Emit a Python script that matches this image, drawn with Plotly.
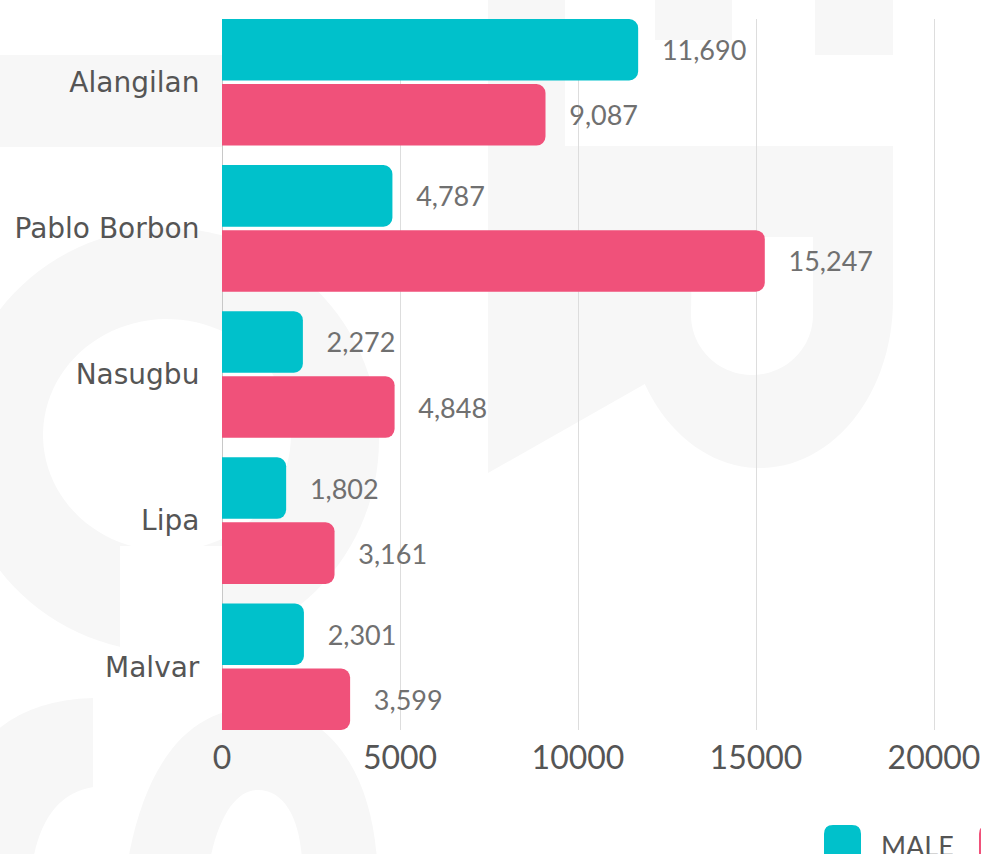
import numpy as np
import plotly.graph_objects as go

# ---------------- data ----------------
campuses = ["Alangilan", "Pablo Borbon", "Nasugbu", "Lipa", "Malvar"]
male = [11690, 4787, 2272, 1802, 2301]
female = [9087, 15247, 4848, 3161, 3599]
series_names = ["MALE", "FEMALE"]
x_ticks = [0, 5000, 10000, 15000, 20000]

# ---------------- style ----------------
TEAL = "#00C1CB"
PINK = "#F0517A"
WM = "#F7F7F7"
OFF = 0                    # page body margin (removed via post_script)
W, H = 981, 854
L, T, PB = 222, 19, 730    # figure px: left margin, top margin, plot bottom
PW, PH = W - L, PB - T


def px(x):  # page pixel -> paper x
    return (x - OFF - L) / PW


def py(y):  # page pixel -> paper y
    return (PB - (y - OFF)) / PH


def path_from(cmds):
    out = []
    for c in cmds:
        if isinstance(c, str):
            out.append(c)
        else:
            out.append(f"{px(c[0]):.5f},{py(c[1]):.5f}")
    return " ".join(out)


def poly(points, close=True):
    s = "M " + " L ".join(f"{px(x):.5f},{py(y):.5f}" for x, y in points)
    return s + (" Z" if close else "")


def ellipse_pts(cx, cy, rx, ry, a0, a1, n=60):
    a = np.linspace(np.radians(a0), np.radians(a1), n)
    return list(zip(cx + rx * np.cos(a), cy + ry * np.sin(a)))


shapes = []


def wm(path, color=WM, rule="evenodd"):
    shapes.append(dict(type="path", path=path, xref="paper", yref="paper",
                       fillcolor=color, line=dict(width=0), layer="below",
                       fillrule=rule))


# watermark: top-left band
wm(poly([(-5, 55), (222, 55), (222, 147), (-5, 147)]))
# ring on the left
outer = ellipse_pts(167, 440, 212, 212, 0, 360, 120)
inner = ellipse_pts(167, 435, 124, 116, 360, 0, 100)
wm(poly(outer) + " " + poly(inner))
wm(poly([(120, 546), (222, 546), (222, 660), (120, 660)]), color="#FFFFFF")
# bottom-left pieces
wm(path_from(["M", (-5, 732), "Q", (30, 700), (93, 698), "L", (93, 787),
              "Q", (45, 795), (33, 860), "L", (-5, 860), "Z"]))
wm(path_from(["M", (128, 860), "C", (150, 740), (205, 707), (258, 707),
              "C", (320, 707), (370, 760), (377, 860), "Z",
              "M", (210, 860), "C", (220, 812), (238, 790), (258, 790),
              "C", (285, 790), (300, 820), (302, 860), "Z"]))
# right "R" shape
bowl = ellipse_pts(760, 300, 133, 168, 0, 150, 50)
r_outer = [(488, 146), (893, 146)] + bowl + [(488, 473)]
hole = [(692, 237), (813, 237)] + ellipse_pts(752, 315, 61, 60, 0, 180, 40)
wm(poly(r_outer) + " " + poly(hole))
wm(poly([(488, -5), (565, -5), (565, 146), (488, 146)]))
wm(poly([(655, -5), (732, -5), (732, 40), (655, 40)]))
wm(poly([(815, -5), (893, -5), (893, 55), (815, 55)]))


# legend swatches (rounded squares)
def rounded(x0, y0, x1, y1, r):
    return path_from(["M", (x0 + r, y0), "L", (x1 - r, y0), "Q", (x1, y0), (x1, y0 + r),
                      "L", (x1, y1 - r), "Q", (x1, y1), (x1 - r, y1),
                      "L", (x0 + r, y1), "Q", (x0, y1), (x0, y1 - r),
                      "L", (x0, y0 + r), "Q", (x0, y0), (x0 + r, y0), "Z"])


for x0, col in [(824, TEAL), (979, PINK)]:
    shapes.append(dict(type="path", path=rounded(x0, 825, x0 + 37, 862, 9),
                       xref="paper", yref="paper", fillcolor=col,
                       line=dict(width=0), layer="above"))

annotations = [
    dict(text=series_names[0], x=px(879), y=py(845), xref="paper", yref="paper",
         xanchor="left", yanchor="middle", showarrow=False,
         font=dict(family="Lato", size=27, color="#555555")),
    dict(text=series_names[1], x=px(1035), y=py(845), xref="paper", yref="paper",
         xanchor="left", yanchor="middle", showarrow=False,
         font=dict(family="Lato", size=27, color="#555555")),
]

fig = go.Figure()
for name, vals, col in [(series_names[0], male, TEAL), (series_names[1], female, PINK)]:
    fig.add_trace(go.Bar(
        y=campuses, x=vals, name=name, orientation="h",
        marker=dict(color=col, cornerradius=9, line=dict(width=0)),
        texttemplate="   %{x:,}", textposition="outside", cliponaxis=False,
        textfont=dict(family="Lato", size=27, color="#707070"),
        showlegend=False,
    ))

x_max = (W - L) / 178.0 * 5000  # axis extends to the window edge

fig.update_layout(
    width=W, height=H,
    margin=dict(l=L, r=0, t=T, b=H - PB, pad=0, autoexpand=False),
    paper_bgcolor="#FFFFFF", plot_bgcolor="rgba(0,0,0,0)",
    barmode="group", bargap=0.11, bargroupgap=0.054,
    shapes=shapes, annotations=annotations,
    showlegend=False,
)
fig.update_xaxes(
    range=[0, x_max], tickvals=x_ticks, tickformat="d",
    showgrid=True, gridcolor="#DDDDDD", gridwidth=1,
    zeroline=True, zerolinecolor="#C8C8C8", zerolinewidth=1,
    showline=False, ticks="outside", ticklen=0, tickcolor="rgba(0,0,0,0)",
    tickfont=dict(family="Lato", size=32, color="#555555"),
)
fig.update_yaxes(
    type="category", categoryorder="array", categoryarray=campuses,
    range=[4.433, -0.433], showgrid=False, zeroline=False, showline=False,
    ticks="outside", ticklen=16, tickcolor="rgba(0,0,0,0)",
    tickfont=dict(family="DejaVu Sans", size=28, color="#555555"),
)

fig.write_html(
    "out.html",
    config={"displayModeBar": False},
    post_script="document.body.style.margin='0';document.body.style.overflow='hidden';",
)
